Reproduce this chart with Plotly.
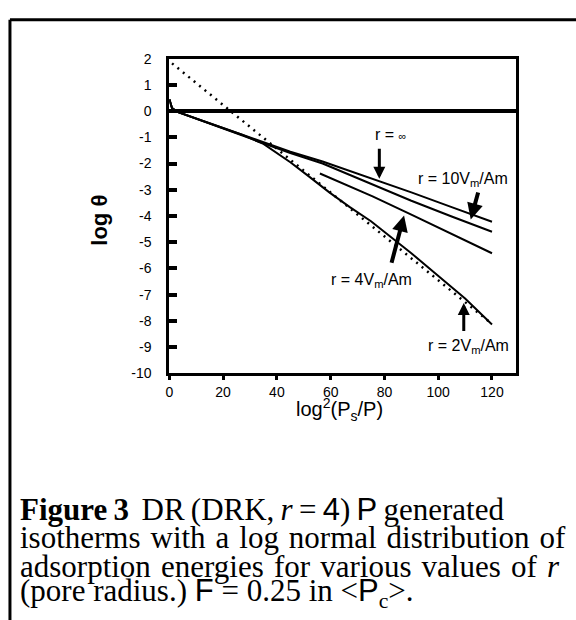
import plotly.graph_objects as go

# ---- data ----
x_inf = [0, 1, 3, 10, 22.5, 35, 45, 57, 66, 75.6, 90, 105, 120]
y_inf = [0.45, 0.12, -0.03, -0.28, -0.72, -1.18, -1.55, -1.92, -2.24, -2.57, -3.1, -3.66, -4.22]

x_r10 = [0, 1, 3, 10, 22.5, 35, 45, 57, 66, 75.6, 90, 105, 120]
y_r10 = [0.45, 0.12, -0.03, -0.29, -0.74, -1.21, -1.6, -2.0, -2.38, -2.81, -3.42, -4.02, -4.6]

x_r4 = [56, 66, 75.6, 90, 105, 120]
y_r4 = [-2.38, -2.82, -3.25, -3.95, -4.68, -5.42]

x_r2 = [0, 1, 3, 10, 20, 27, 35, 45, 52, 59.5, 67, 75, 90, 101.5, 110, 120]
y_r2 = [0.45, 0.1, -0.03, -0.29, -0.66, -0.9, -1.25, -1.95, -2.5, -3.1, -3.65, -4.2, -5.42, -6.4, -7.15, -8.14]

x_dr = [1, 23.7, 37.3, 64.4, 120]
y_dr = [1.82, -0.08, -1.2, -3.48, -8.12]

x_ticks = [0, 20, 40, 60, 80, 100, 120]
y_ticks = [2, 1, 0, -1, -2, -3, -4, -5, -6, -7, -8, -9, -10]
y_tick_text = ["2", "1", "0", "-1", "-2", "-3", "-4", "-5", "-6", "-7", "-8", "-9", "-10"]

W, H = 576, 620
SANS = "Liberation Sans"
SERIF = "Liberation Serif"

fig = go.Figure()
line = dict(color="black", width=2)
fig.add_trace(go.Scatter(x=x_dr, y=y_dr, mode="lines",
                         line=dict(color="black", width=2.5, dash="2px,5px"), showlegend=False))
for xs, ys in [(x_inf, y_inf), (x_r10, y_r10), (x_r4, y_r4), (x_r2, y_r2)]:
    fig.add_trace(go.Scatter(x=xs, y=ys, mode="lines", line=line, showlegend=False))

# plot area in pixels
L, R, T, B = 166.5, 515.5, 52, 375

fig.update_layout(
    width=W, height=H, margin=dict(l=0, r=0, t=0, b=0),
    paper_bgcolor="white", plot_bgcolor="white",
    xaxis=dict(domain=[L / W, R / W], range=[0, 128.9], tickvals=x_ticks,
               ticks="outside", ticklen=4, tickwidth=3, tickcolor="black",
               showline=True, linewidth=3, linecolor="black", mirror=True,
               showgrid=False, zeroline=False,
               tickfont=dict(family=SANS, size=14, color="black")),
    yaxis=dict(domain=[1 - B / H, 1 - T / H], range=[-10, 2], tickvals=y_ticks,
               ticktext=y_tick_text,
               ticks="inside", ticklen=8, tickwidth=4, tickcolor="black",
               showline=True, linewidth=3, linecolor="black", mirror=True,
               showgrid=False, zeroline=True, zerolinewidth=4, zerolinecolor="black",
               ticklabelstandoff=12,
               tickfont=dict(family=SANS, size=14, color="black")),
)

# outer frame
fig.add_shape(type="line", xref="paper", yref="paper", x0=6 / W, x1=6 / W, y0=1 - 12 / H, y1=-0.05,
              line=dict(color="black", width=3))
fig.add_shape(type="line", xref="paper", yref="paper", x0=6 / W, x1=1.05, y0=1 - 12 / H, y1=1 - 12 / H,
              line=dict(color="black", width=3))

# axis titles
fig.add_annotation(xref="paper", yref="paper", x=96 / W, y=1 - 218 / H, text="<b>log θ</b>",
                   xanchor="center", yanchor="middle",
                   textangle=-90, showarrow=False, font=dict(family=SANS, size=22, color="black"))
fig.add_annotation(xref="paper", yref="paper", x=338 / W, y=1 - 412 / H,
                   xanchor="center", yanchor="middle",
                   text="log<sup>2</sup>(P<sub>s</sub>/P)",
                   showarrow=False, font=dict(family=SANS, size=20, color="black"))

# curve labels
lab = dict(family=SANS, size=16, color="black")
fig.add_annotation(x=82.2, y=-0.89, text="r = <span style='font-size:11px'>∞</span>", showarrow=False, font=lab)
fig.add_annotation(x=109.1, y=-2.6, text="r = 10V<sub>m</sub>/Am", showarrow=False, font=lab)
fig.add_annotation(x=75.1, y=-6.47, text="r = 4V<sub>m</sub>/Am", showarrow=False, font=lab)
fig.add_annotation(x=111.3, y=-8.96, text="r = 2V<sub>m</sub>/Am", showarrow=False, font=lab)

# arrows
arrows = [((78.1, -1.375), (78.1, -2.58), 3),
          ((115.0, -3.05), (112.1, -4.13), 4),
          ((82.5, -5.84), (87.3, -3.98), 4),
          ((109.5, -8.44), (109.5, -7.32), 3)]
for (ax_, ay_), (x_, y_), w in arrows:
    fig.add_annotation(x=x_, y=y_, ax=ax_, ay=ay_, axref="x", ayref="y", xref="x", yref="y",
                       text="", showarrow=True, arrowhead=2, arrowsize=0.8, arrowwidth=w,
                       arrowcolor="black", standoff=0)

# caption
cap = dict(family=SERIF, size=31, color="black")
sans = lambda s: f"<span style='font-family:{SANS}'>{s}</span>"
lines = [
    (515, f"<span style='word-spacing:-1.5px'><b>Figure 3</b>\u00a0 DR (DRK, <i>r</i> = {sans('4')}) {sans('P')} generated</span>"),
    (544, "<span style='word-spacing:2.2px'>isotherms with a log normal distribution of</span>"),
    (573, "<span style='word-spacing:2.4px'>adsorption energies for various values of <i>r</i></span>"),
    (601, f"(pore radius.) {sans('F')} = 0.25 in &lt;{sans('P')}<sub>c</sub>&gt;."),
]
for yy, t in lines:
    fig.add_annotation(xref="paper", yref="paper", x=14 / W, y=1 - yy / H, xanchor="left",
                       yanchor="middle", text=t, showarrow=False, font=cap, align="left")

fig.write_html("out.html", config={"displayModeBar": False},
               post_script="document.body.style.margin='0px';")
